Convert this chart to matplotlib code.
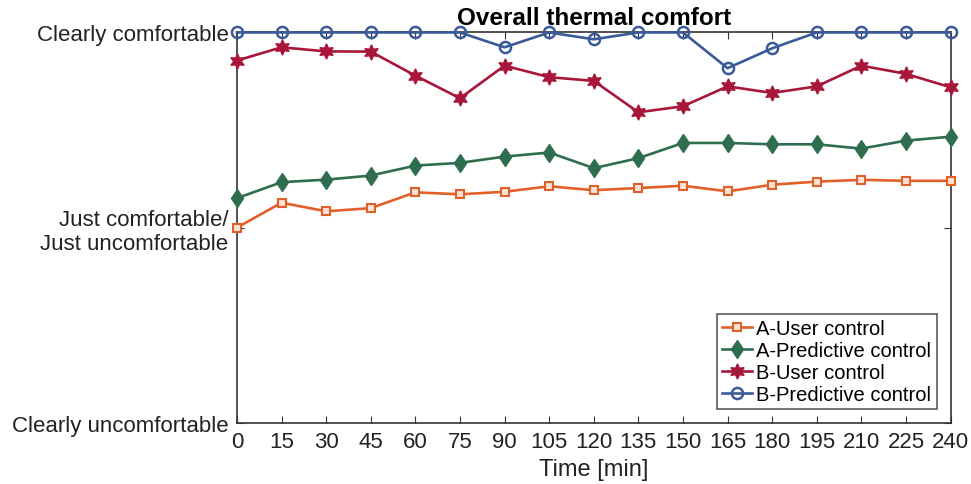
import matplotlib
matplotlib.use("Agg")
import matplotlib.pyplot as plt

plt.rcParams['font.family'] = ['Liberation Sans', 'DejaVu Sans']

time = [0, 15, 30, 45, 60, 75, 90, 105, 120, 135, 150, 165, 180, 195, 210, 225, 240]
a_user = [0.0, 0.128, 0.084, 0.100, 0.181, 0.171, 0.184, 0.212, 0.192, 0.203, 0.215, 0.186, 0.220, 0.236, 0.245, 0.240, 0.240]
a_pred = [0.151, 0.233, 0.246, 0.267, 0.318, 0.332, 0.364, 0.385, 0.305, 0.356, 0.434, 0.434, 0.427, 0.427, 0.405, 0.446, 0.466]
b_user = [0.856, 0.924, 0.903, 0.902, 0.779, 0.663, 0.830, 0.771, 0.752, 0.591, 0.622, 0.724, 0.690, 0.724, 0.830, 0.788, 0.719]
b_pred = [1.0, 1.0, 1.0, 1.0, 1.0, 1.0, 0.924, 1.0, 0.965, 1.0, 1.0, 0.817, 0.919, 1.0, 1.0, 1.0, 1.0]
yticks = [-1, 0, 1]
ytick_labels = ['Clearly uncomfortable', 'Just comfortable/\nJust uncomfortable', 'Clearly comfortable']

fig = plt.figure(figsize=(9.71, 4.85), dpi=100)
ax = fig.add_axes([0.244, 0.126, 0.735, 0.805])

c_or = '#E0602A'
c_gr = '#2E6E4E'
c_rd = '#A8173A'
c_bl = '#3B5A98'

ax.plot(time, a_user, color=c_or, lw=1.9, marker='s', ms=6, mfc='#FBE3D6', mec=c_or, mew=1.5,
        label='A-User control', clip_on=False, zorder=3)
ax.plot(time, a_pred, color=c_gr, lw=1.9, marker='d', ms=9.5, mfc=c_gr, mec=c_gr, mew=1,
        label='A-Predictive control', clip_on=False, zorder=3)
ax.plot(time, b_user, color=c_rd, lw=1.9, marker=(6, 1, 0), ms=11, mfc=c_rd, mec=c_rd, mew=1,
        label='B-User control', clip_on=False, zorder=3)
ax.plot(time, b_pred, color=c_bl, lw=1.9, marker='o', ms=8, mfc='none', mec=c_bl, mew=1.8,
        label='B-Predictive control', clip_on=False, zorder=4)

ax.set_xlim(0, 240)
ax.set_ylim(-1, 1)
ax.set_xticks(time)
ax.set_yticks(yticks)
ax.set_yticklabels(ytick_labels)
ax.tick_params(direction='in', top=True, right=True, labelsize=16, length=5,
               colors='#333333', labelcolor='#222222')
ax.tick_params(axis='x', pad=6)
ax.tick_params(axis='y', pad=6)
for s in ax.spines.values():
    s.set_color('#333333')
    s.set_linewidth(1.2)

ax.set_xlabel('Time [min]', fontsize=17, color='#222222', labelpad=4)
ax.set_title('Overall thermal comfort', fontsize=17.5, fontweight='bold', pad=6)

leg = ax.legend(loc='lower right', fontsize=14.5, frameon=True, fancybox=False,
                edgecolor='#333333', handlelength=1.5, handletextpad=0.2,
                borderpad=0.25, labelspacing=0.15, borderaxespad=0.7)
leg.get_frame().set_linewidth(1.2)

fig.savefig('out.png', dpi=100)
